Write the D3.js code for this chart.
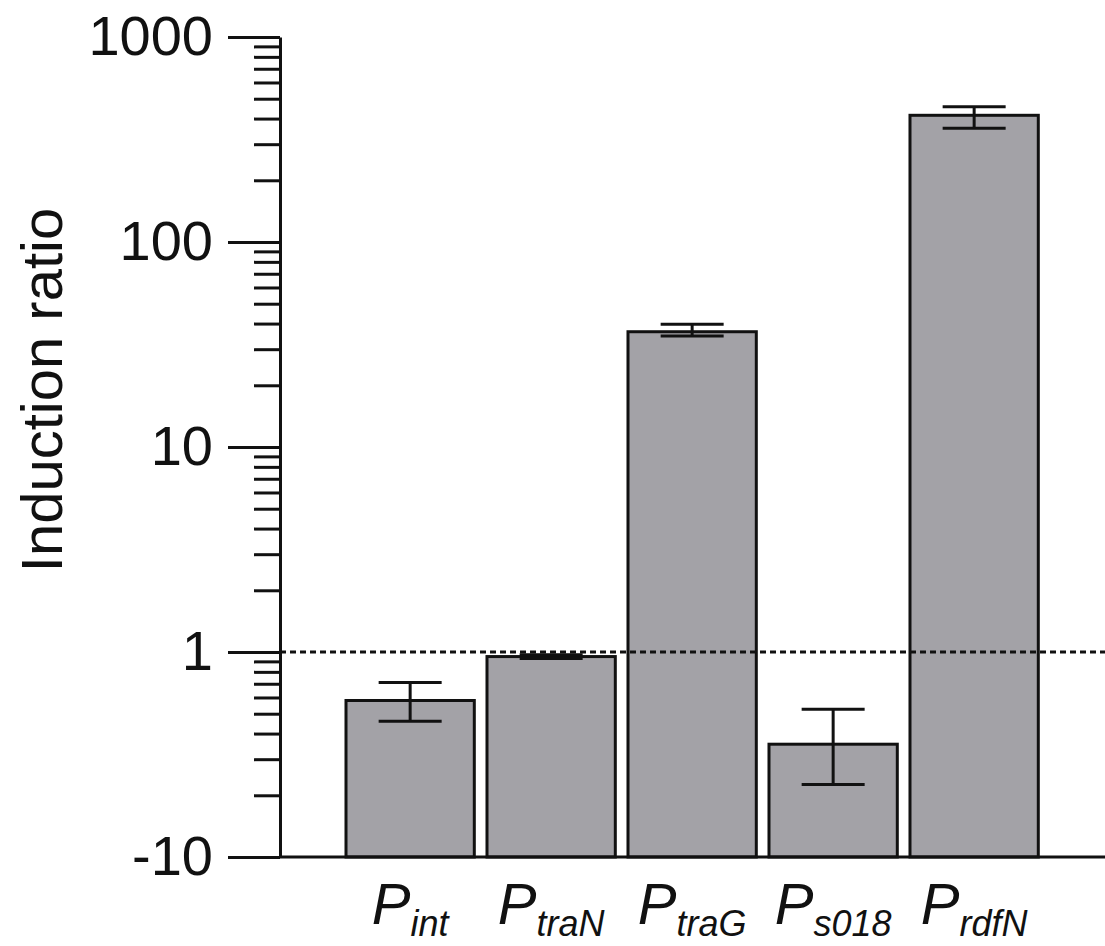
<!DOCTYPE html>
<html>
<head>
<meta charset="utf-8">
<script src="https://cdn.jsdelivr.net/npm/d3@7"></script>
<style>
  body { margin: 0; background: #fff; }
  svg { display: block; font-family: "Liberation Sans", Arial, sans-serif; }
</style>
</head>
<body>
<svg id="chart"></svg>
<script>
// promoter names (subscript after the P) and induction ratios
const categories = ['int', 'traN', 'traG', 's018', 'rdfN'];
const ratios = [0.58, 0.95, 36.5, 0.355, 415];
const errLow = [0.46, 0.93, 34.8, 0.226, 359];
const errHigh = [0.71, 0.97, 39.7, 0.525, 457];

// log axis, values under 1 shown as negative fold change (0.1 -> "-10")
const majorTicks = [0.1, 1, 10, 100, 1000];
const majorLabels = ['-10', '1', '10', '100', '1000'];

const width = 1105, height = 946;
const svg = d3.select('#chart').attr('width', width).attr('height', height);

const y = d3.scaleLog().domain([0.1, 1000]).range([857, 37]);
const x = d3.scaleBand().domain(categories).range([346, 1038.3]).paddingInner(0.09).paddingOuter(0);

const axisX = 280;

// minor ticks 2..9 in each decade
const minorTicks = [];
majorTicks.slice(0, -1).forEach(m => {
    for (let k = 2; k <= 9; k++) minorTicks.push(m * k);
});

const data = categories.map((c, i) => ({ name: c, value: ratios[i], lo: errLow[i], hi: errHigh[i] }));

// bars
svg.append('g').selectAll('rect').data(data)
    .enter().append('rect')
    .attr('x', d => x(d.name))
    .attr('y', d => y(d.value))
    .attr('width', x.bandwidth())
    .attr('height', d => y(0.1) - y(d.value))
    .attr('fill', '#a3a2a7')
    .attr('stroke', '#111')
    .attr('stroke-width', 3);

// error bars
const capW = 63;
const eb = svg.append('g').attr('stroke', '#111').attr('stroke-width', 3);
data.forEach(d => {
    const cx = x(d.name) + x.bandwidth() / 2;
    eb.append('line').attr('x1', cx).attr('x2', cx).attr('y1', y(d.hi)).attr('y2', y(d.lo));
    eb.append('line').attr('x1', cx - capW / 2).attr('x2', cx + capW / 2).attr('y1', y(d.hi)).attr('y2', y(d.hi));
    eb.append('line').attr('x1', cx - capW / 2).attr('x2', cx + capW / 2).attr('y1', y(d.lo)).attr('y2', y(d.lo));
});

// dotted reference line at ratio 1
svg.append('line')
    .attr('x1', axisX).attr('x2', width)
    .attr('y1', y(1)).attr('y2', y(1))
    .attr('stroke', '#111').attr('stroke-width', 3)
    .attr('stroke-dasharray', '6,4');

// minor ticks
svg.append('g')
    .attr('transform', `translate(${axisX},0)`)
    .call(d3.axisLeft(y).tickValues(minorTicks).tickSize(26).tickSizeOuter(0).tickFormat(''))
    .call(g => g.select('.domain').remove())
    .call(g => g.selectAll('line').attr('stroke', '#111').attr('stroke-width', 3));

// major ticks + labels
svg.append('g')
    .attr('transform', `translate(${axisX},0)`)
    .call(d3.axisLeft(y).tickValues(majorTicks).tickSize(52).tickSizeOuter(0).tickPadding(15)
        .tickFormat((d, i) => majorLabels[i]))
    .call(g => g.select('.domain').attr('stroke', '#111').attr('stroke-width', 3))
    .call(g => g.selectAll('line').attr('stroke', '#111').attr('stroke-width', 3))
    .call(g => g.selectAll('text').attr('font-size', 56).attr('fill', '#111')
        .attr('font-family', '"Liberation Sans", Arial, sans-serif'));

// baseline
svg.append('line')
    .attr('x1', axisX).attr('x2', width)
    .attr('y1', y(0.1)).attr('y2', y(0.1))
    .attr('stroke', '#111').attr('stroke-width', 3);

// category labels P with italic subscript
const xg = svg.append('g')
    .attr('transform', `translate(0,${y(0.1)})`)
    .call(d3.axisBottom(x).tickSize(0))
    .call(g => g.select('.domain').remove());

xg.selectAll('.tick text').each(function(d) {
    const t = d3.select(this);
    t.text(null)
        .attr('y', 67).attr('dy', 0)
        .attr('font-size', 58)
        .attr('font-style', 'italic')
        .attr('fill', '#111')
        .attr('font-family', '"Liberation Sans", Arial, sans-serif');
    t.append('tspan').text('P');
    t.append('tspan').attr('font-size', 36).attr('dy', 12).text(d);
});

// y label
svg.append('text')
    .attr('transform', 'rotate(-90)')
    .attr('x', -390).attr('y', 62)
    .attr('text-anchor', 'middle')
    .attr('font-size', 58)
    .attr('fill', '#111')
    .text('Induction ratio');
</script>
</body>
</html>
